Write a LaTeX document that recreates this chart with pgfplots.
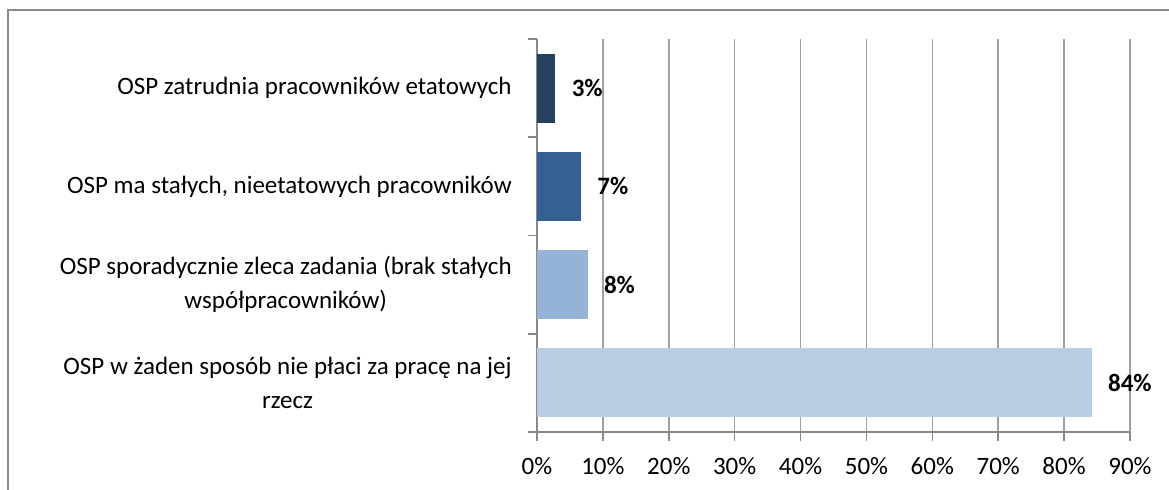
\documentclass[border=0pt]{standalone}
\usepackage{pgfplots}
\pgfplotsset{compat=1.18}
\usepackage{fontspec}
\setmainfont{Carlito}
\definecolor{cA}{HTML}{26405F}
\definecolor{cB}{HTML}{376092}
\definecolor{cC}{HTML}{95B3D7}
\definecolor{cD}{HTML}{B9CDE5}
\definecolor{axg}{HTML}{898989}
\definecolor{grd}{HTML}{A0A0A0}
\definecolor{frm}{HTML}{8C8C8C}
\begin{document}
\fontsize{12.5pt}{17pt}\selectfont
\begin{tikzpicture}
\path[use as bounding box] (0,0) rectangle (584.5pt,245pt);
\draw[frm, line width=0.8pt] (4pt,-2pt) -- (4pt,240pt) -- (586pt,240pt);
\begin{axis}[
  at={(268.5pt,29pt)}, anchor=south west,
  scale only axis, width=296.5pt, height=196.5pt,
  xbar, xmin=0, xmax=90, ymin=-0.5, ymax=3.5, y dir=reverse,
  axis x line*=bottom, axis y line*=left,
  axis line style={axg, line width=0.8pt},
  tick align=outside, major tick length=4.5pt,
  tick style={axg, line width=0.8pt},
  xtick={0,10,20,30,40,50,60,70,80,90},
  xticklabels={0\%,10\%,20\%,30\%,40\%,50\%,60\%,70\%,80\%,90\%},
  xticklabel style={font=\fontsize{12.5pt}{15pt}\selectfont, yshift=-4pt},
  xmajorgrids, major grid style={grd, line width=0.8pt},
  ytick={-0.5,0.5,1.5,2.5,3.5}, yticklabels={},
  extra y ticks={0,1,2,3},
  extra y tick labels={OSP zatrudnia pracowników etatowych,{OSP ma stałych, nieetatowych pracowników},{OSP sporadycznie zleca zadania (brak stałych\\współpracowników)},{OSP w żaden sposób nie płaci za pracę na jej\\rzecz}},
  extra y tick style={tick style={draw=none}, yticklabel style={align=center, font=\fontsize{12.5pt}{17pt}\selectfont, xshift=-3.8pt}},
  nodes near coords style={font=\fontsize{12.5pt}{15pt}\selectfont\bfseries, anchor=west, xshift=3.8pt},
]
\addplot[fill=cA, draw=none, bar shift=0pt, bar width=0.7, nodes near coords={3\%}] coordinates {(2.8,0)};
\addplot[fill=cB, draw=none, bar shift=0pt, bar width=0.7, nodes near coords={7\%}] coordinates {(6.7,1)};
\addplot[fill=cC, draw=none, bar shift=0pt, bar width=0.7, nodes near coords={8\%}] coordinates {(7.7,2)};
\addplot[fill=cD, draw=none, bar shift=0pt, bar width=0.7, nodes near coords={84\%}] coordinates {(84.2,3)};
\end{axis}
\end{tikzpicture}
\end{document}
